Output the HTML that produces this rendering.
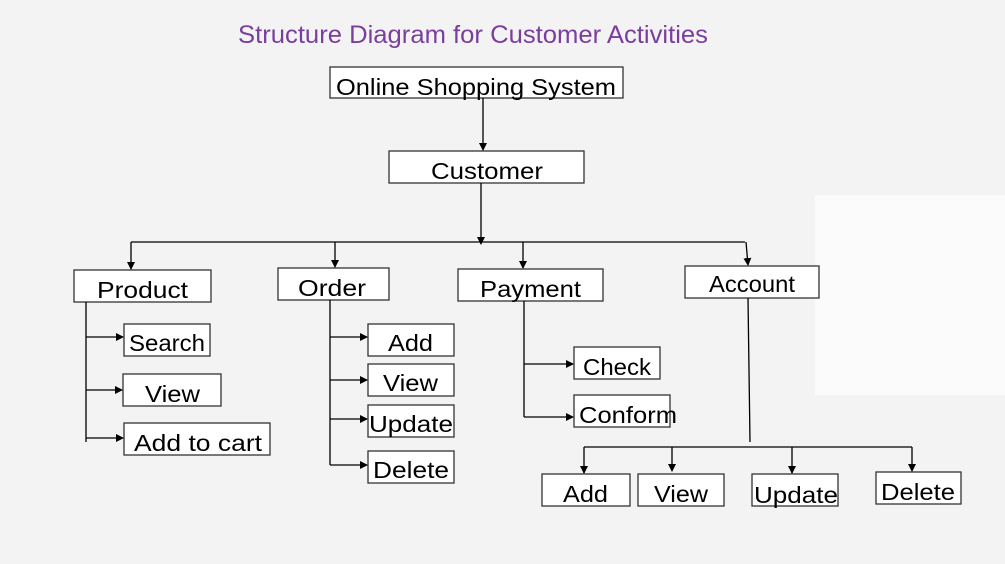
<!DOCTYPE html>
<html><head><meta charset="utf-8"><style>
html,body{margin:0;padding:0;background:#f3f3f3;}
svg{display:block;}
</style></head><body>
<svg width="1005" height="564" viewBox="0 0 1005 564" xmlns="http://www.w3.org/2000/svg">
<defs>
<marker id="a" markerWidth="8" markerHeight="8" refX="7" refY="4" orient="auto" markerUnits="userSpaceOnUse">
<path d="M0,0 L8,4 L0,8 z" fill="#000"/></marker>
</defs>
<rect x="0" y="0" width="1005" height="564" fill="#f3f3f3"/>
<rect x="815" y="195" width="190" height="200" fill="#fbfbfb"/>
<text x="238" y="43" font-family="Liberation Sans, sans-serif" font-size="25" fill="#7a3e9d" textLength="470" lengthAdjust="spacingAndGlyphs">Structure Diagram for Customer Activities</text>
<g fill="#fff" stroke="#333" stroke-width="1.3">
<rect x="330" y="67" width="293" height="31"/>
<rect x="389" y="151" width="195" height="32"/>
<rect x="74" y="270" width="137" height="32"/>
<rect x="278" y="268" width="111" height="32"/>
<rect x="458" y="269" width="145" height="32"/>
<rect x="685" y="266" width="134" height="32"/>
<rect x="124" y="324" width="86" height="32"/>
<rect x="123" y="374" width="98" height="32"/>
<rect x="124" y="423" width="146" height="32"/>
<rect x="368" y="324" width="86" height="32"/>
<rect x="368" y="364" width="86" height="32"/>
<rect x="368" y="405" width="86" height="32"/>
<rect x="368" y="451" width="86" height="32"/>
<rect x="574" y="347" width="86" height="32"/>
<rect x="574" y="395" width="96" height="32"/>
<rect x="542" y="474" width="88" height="32"/>
<rect x="638" y="474" width="86" height="32"/>
<rect x="752" y="474" width="86" height="32"/>
<rect x="876" y="472" width="85" height="32"/>
</g>
<g stroke="#000" stroke-width="1.3" fill="none">
<line x1="483" y1="98" x2="483" y2="150" marker-end="url(#a)"/>
<line x1="481" y1="183" x2="481" y2="244" marker-end="url(#a)"/>
<line x1="131" y1="242" x2="745" y2="242"/>
<line x1="131" y1="242" x2="131" y2="269" marker-end="url(#a)"/>
<line x1="335" y1="242" x2="335" y2="267" marker-end="url(#a)"/>
<line x1="523" y1="242" x2="523" y2="268" marker-end="url(#a)"/>
<line x1="746" y1="242" x2="748" y2="265" marker-end="url(#a)"/>
<line x1="86" y1="302" x2="86" y2="442"/>
<line x1="86" y1="337" x2="123" y2="337" marker-end="url(#a)"/>
<line x1="86" y1="390" x2="122" y2="390" marker-end="url(#a)"/>
<line x1="86" y1="438" x2="123" y2="438" marker-end="url(#a)"/>
<line x1="330" y1="300" x2="330" y2="465"/>
<line x1="330" y1="337" x2="367" y2="337" marker-end="url(#a)"/>
<line x1="330" y1="380" x2="367" y2="380" marker-end="url(#a)"/>
<line x1="330" y1="419" x2="367" y2="419" marker-end="url(#a)"/>
<line x1="330" y1="465" x2="367" y2="465" marker-end="url(#a)"/>
<line x1="524" y1="301" x2="524" y2="417"/>
<line x1="524" y1="364" x2="573" y2="364" marker-end="url(#a)"/>
<line x1="524" y1="417" x2="573" y2="417" marker-end="url(#a)"/>
<line x1="748" y1="298" x2="750" y2="442"/>
<line x1="584" y1="447" x2="912" y2="447"/>
<line x1="584" y1="447" x2="584" y2="473" marker-end="url(#a)"/>
<line x1="672" y1="447" x2="672" y2="471" marker-end="url(#a)"/>
<line x1="792" y1="447" x2="792" y2="473" marker-end="url(#a)"/>
<line x1="912" y1="447" x2="912" y2="471" marker-end="url(#a)"/>
</g>
<g font-family="Liberation Sans, sans-serif" font-size="23" fill="#000" lengthAdjust="spacingAndGlyphs">
<text x="336" y="95" textLength="280" lengthAdjust="spacingAndGlyphs">Online Shopping System</text>
<text x="431" y="179" textLength="112" lengthAdjust="spacingAndGlyphs">Customer</text>
<text x="97" y="298" textLength="91" lengthAdjust="spacingAndGlyphs">Product</text>
<text x="298" y="296" textLength="68" lengthAdjust="spacingAndGlyphs">Order</text>
<text x="480" y="297" textLength="101" lengthAdjust="spacingAndGlyphs">Payment</text>
<text x="709" y="292" textLength="86" lengthAdjust="spacingAndGlyphs">Account</text>
<text x="129" y="351" textLength="76" lengthAdjust="spacingAndGlyphs">Search</text>
<text x="145" y="402" textLength="55" lengthAdjust="spacingAndGlyphs">View</text>
<text x="134" y="451" textLength="128" lengthAdjust="spacingAndGlyphs">Add to cart</text>
<text x="388" y="351" textLength="45" lengthAdjust="spacingAndGlyphs">Add</text>
<text x="383" y="391" textLength="55" lengthAdjust="spacingAndGlyphs">View</text>
<text x="369" y="432" textLength="84" lengthAdjust="spacingAndGlyphs">Update</text>
<text x="373" y="478" textLength="76" lengthAdjust="spacingAndGlyphs">Delete</text>
<text x="583" y="375" textLength="68" lengthAdjust="spacingAndGlyphs">Check</text>
<text x="579" y="423" textLength="98" lengthAdjust="spacingAndGlyphs">Conform</text>
<text x="563" y="502" textLength="45" lengthAdjust="spacingAndGlyphs">Add</text>
<text x="654" y="502" textLength="54" lengthAdjust="spacingAndGlyphs">View</text>
<text x="754" y="503" textLength="84" lengthAdjust="spacingAndGlyphs">Update</text>
<text x="881" y="500" textLength="74" lengthAdjust="spacingAndGlyphs">Delete</text>
</g>
</svg>
</body></html>
